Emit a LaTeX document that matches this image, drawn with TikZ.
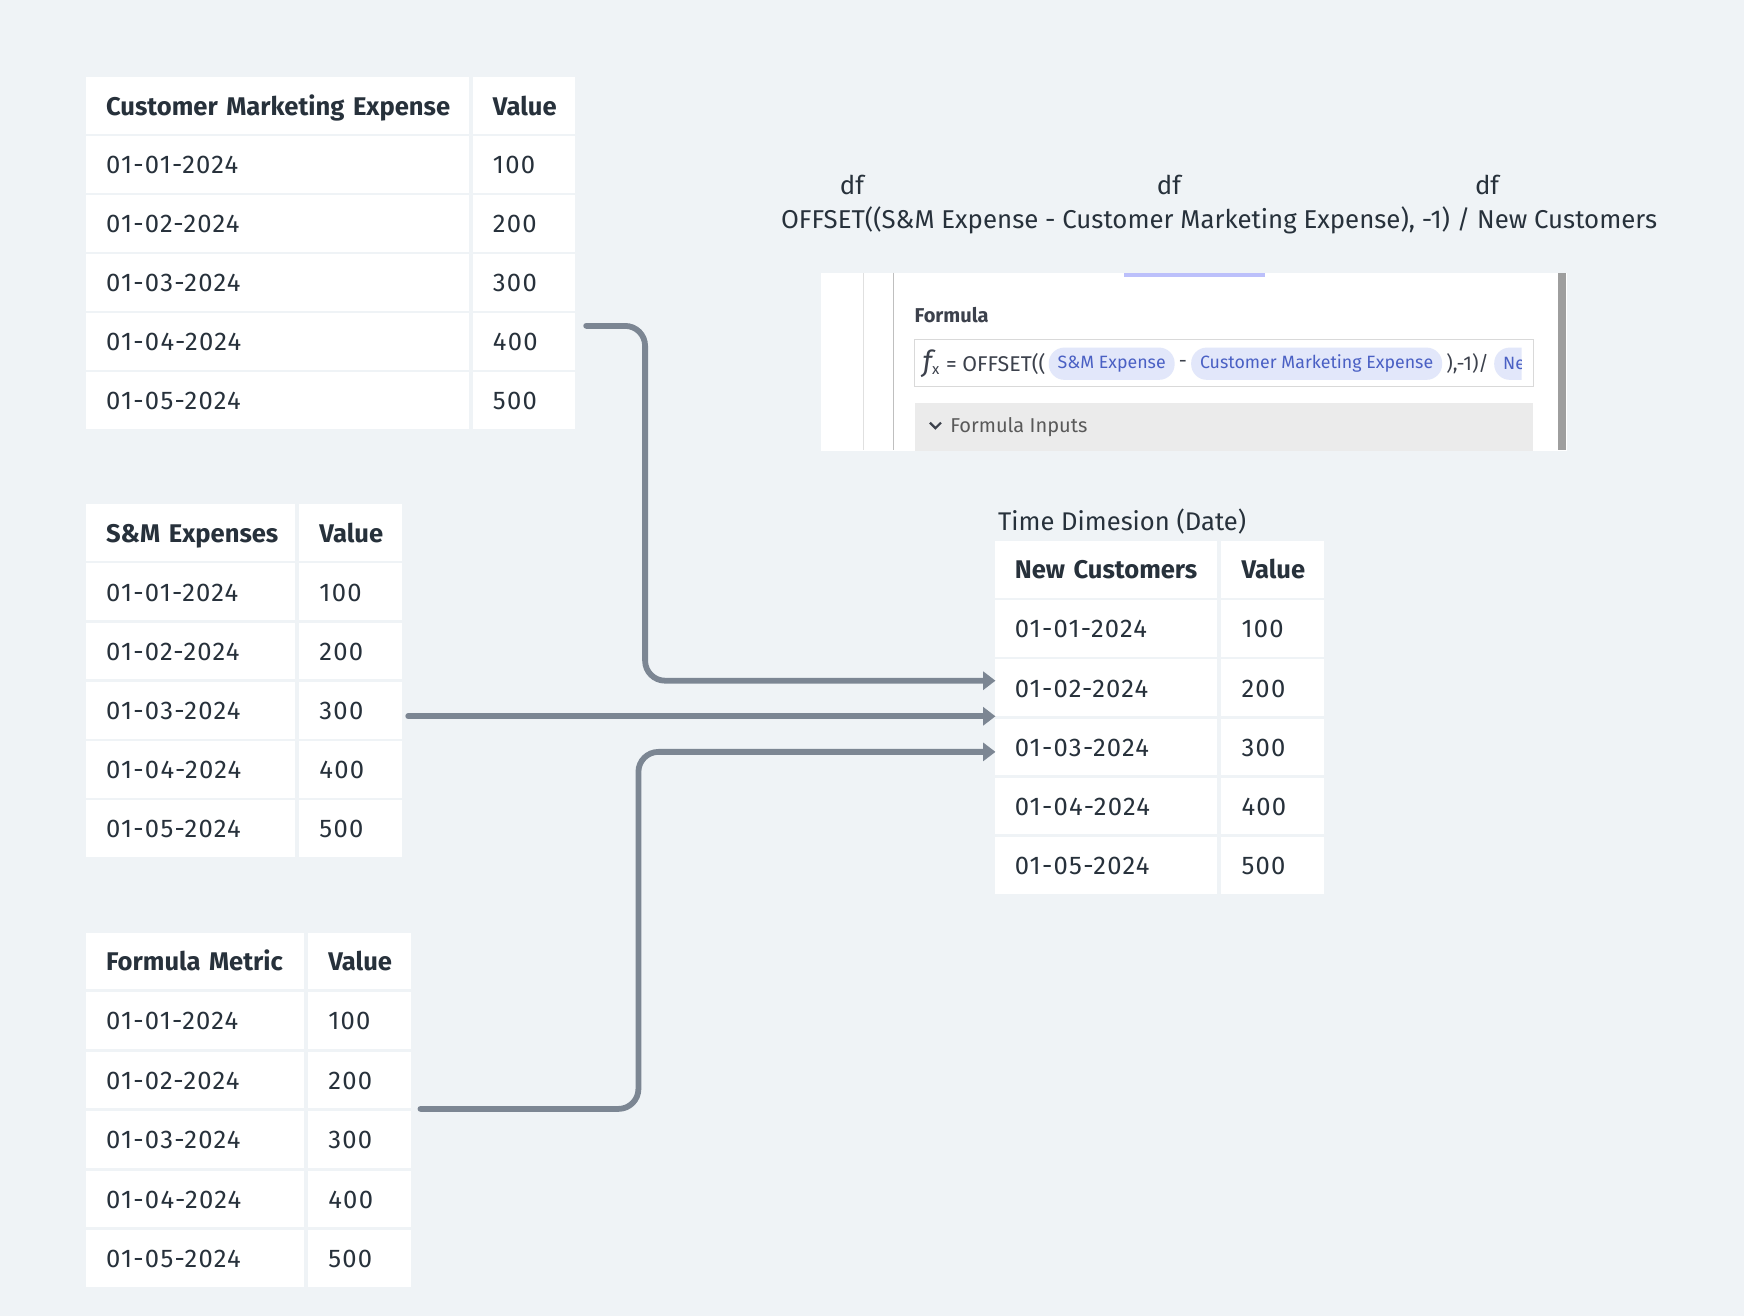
\documentclass[tikz,border=0pt]{standalone}
\usepackage{fontspec}
\setmainfont{Fira Sans}
\newfontfamily\cellfont[LetterSpace=5]{Fira Sans}
\usepackage{tikz}
\usetikzlibrary{arrows.meta,positioning,calc}
\definecolor{bgcol}{HTML}{EFF3F6}
\definecolor{inkcol}{HTML}{27313B}
\definecolor{linkcol}{HTML}{7C8693}
\definecolor{pillcol}{HTML}{E2E7FA}
\definecolor{pilltext}{HTML}{4A60C4}
\definecolor{shotink}{HTML}{3C414C}

\tikzset{
  cell/.style={fill=white, anchor=north west, minimum height=25.5pt, inner xsep=0pt,
    inner ysep=0pt, align=left, text=inkcol, text width=#1, text height=10pt, text depth=1.5pt,
    execute at begin node={\hspace*{9pt}}, font=\cellfont\fontsize{11.5}{14}\selectfont},
  headcell/.style={cell=#1, font=\fontsize{11.5}{14}\selectfont\bfseries},
  link/.style={draw=linkcol, line width=2.6pt, line cap=round, rounded corners=9pt,
    -{Triangle[length=5.5pt,width=8pt]}},
  pill/.style={fill=pillcol, rounded corners=7pt, text=pilltext, inner xsep=4pt,
    inner ysep=0pt, minimum height=14.5pt, font=\fontsize{8}{10}\selectfont},
  shottext/.style={inner sep=0pt, text=shotink, font=\fontsize{9}{10}\selectfont},
}

\begin{document}
\begin{tikzpicture}[x=0.5pt,y=-0.5pt]
  \fill[bgcol] (0,0) rectangle (1568,1183);
  \useasboundingbox (0,0) rectangle (1568,1183);

  % customer marketing expense
  \node[headcell=172pt] (cme_h) at (77,69) {Customer Marketing Expense};
  \node[headcell=46pt, right=1.5pt of cme_h] (cme_hv) {Value};
  \foreach \d/\v [count=\i] in {01-01-2024/100,01-02-2024/200,01-03-2024/300,01-04-2024/400,01-05-2024/500} {
    \node[cell=172pt] (cme_\i) at (77,{69+53*\i}) {\d};
    \node[cell=46pt, right=1.5pt of cme_\i] (cme_v\i) {\v};
  }

  % s&m expenses
  \node[headcell=94pt] (sme_h) at (77,453) {S\&M Expenses};
  \node[headcell=46pt, right=1.5pt of sme_h] (sme_hv) {Value};
  \foreach \d/\v [count=\i] in {01-01-2024/100,01-02-2024/200,01-03-2024/300,01-04-2024/400,01-05-2024/500} {
    \node[cell=94pt] (sme_\i) at (77,{453+53.2*\i}) {\d};
    \node[cell=46pt, right=1.5pt of sme_\i] (sme_v\i) {\v};
  }

  % formula metric
  \node[headcell=98pt] (fm_h) at (77,838) {Formula Metric};
  \node[headcell=46pt, right=1.5pt of fm_h] (fm_hv) {Value};
  \foreach \d/\v [count=\i] in {01-01-2024/100,01-02-2024/200,01-03-2024/300,01-04-2024/400,01-05-2024/500} {
    \node[cell=98pt] (fm_\i) at (77,{838+53.5*\i}) {\d};
    \node[cell=46pt, right=1.5pt of fm_\i] (fm_v\i) {\v};
  }

  % new customers
  \node[anchor=west, inner sep=0pt, text=inkcol, font=\fontsize{11.5}{14}\selectfont] (dim) at (897,469) {Time Dimesion (Date)};
  \node[headcell=100pt] (nc_h) at (894,486) {New Customers};
  \node[headcell=46pt, right=1.5pt of nc_h] (nc_hv) {Value};
  \foreach \d/\v [count=\i] in {01-01-2024/100,01-02-2024/200,01-03-2024/300,01-04-2024/400,01-05-2024/500} {
    \node[cell=100pt] (nc_\i) at (894,{486+53.2*\i}) {\d};
    \node[cell=46pt, right=1.5pt of nc_\i] (nc_v\i) {\v};
  }

  % formula text
  \begin{scope}[every node/.style={inner sep=0pt, text=inkcol, font=\fontsize{11.6}{14}\selectfont}]
    \node (df_1) at (766,166) {df};
    \node (df_2) at (1051,166) {df};
    \node (df_3) at (1337,166) {df};
    \node (fml) at (1096,198) {OFFSET((S\&M Expense - Customer Marketing Expense), -1) / New Customers};
  \end{scope}

  % screenshot of the formula editor
  \node[fill=white, anchor=north west, minimum width=335pt, minimum height=80pt, inner sep=0pt] (shot) at (738,245) {};
  \draw[black!12] (776,245) -- (776,405);
  \draw[black!25] (803,245) -- (803,405);
  \fill[black!38] (1401,245) rectangle (1408,405);
  \fill[pillcol!80!blue!90] (1011,245) rectangle (1137,249);
  \node[shottext, anchor=west, font=\fontsize{9}{10}\selectfont\bfseries] (shot_t) at (822,283) {Formula};
  \node[draw=black!15, fill=white, anchor=north west, minimum width=278pt, minimum height=21pt, inner sep=0pt] (fbox) at (822,305) {};
  \begin{scope}
    \clip (823,306) rectangle (1368,346);
    \node[shottext, anchor=west, font=\fontsize{9.6}{10}\selectfont] (fx) at (829,327) {{\fontsize{13}{13}\selectfont\itshape f}\textsubscript{x} = OFFSET((};
    \node[pill, right=1pt of fx] (p_1) {S\&M Expense};
    \node[shottext, right=1.5pt of p_1] (p_m) {-};
    \node[pill, right=1.5pt of p_m] (p_2) {Customer Marketing Expense};
    \node[shottext, right=1.5pt of p_2] (p_t) {),-1)/};
    \node[pill, right=2pt of p_t] (p_3) {New Customers};
  \end{scope}
  \node[fill=black!8, anchor=north west, minimum width=278pt, minimum height=21.5pt, inner sep=0pt] (ibox) at (822,362) {};
  \draw[shotink, line width=1pt] (836,380) -- (841,385) -- (846,380);
  \node[shottext, anchor=west, text=black!65] (ibox_t) at (854,384) {Formula Inputs};

  % connectors
  \coordinate (cme_out) at (527,293);
  \coordinate (cme_bend) at (580,612);
  \coordinate (nc_in1) at (895,612);
  \coordinate (sme_out) at (367,644);
  \coordinate (nc_in2) at (895,644);
  \coordinate (fm_out) at (378,997);
  \coordinate (fm_bend) at (574,676);
  \coordinate (nc_in3) at (895,676);
  \draw[link] (cme_out) -| (cme_bend) -- (nc_in1);
  \draw[link] (sme_out) -- (nc_in2);
  \draw[link] (fm_out) -| (fm_bend) -- (nc_in3);
\end{tikzpicture}
\end{document}
